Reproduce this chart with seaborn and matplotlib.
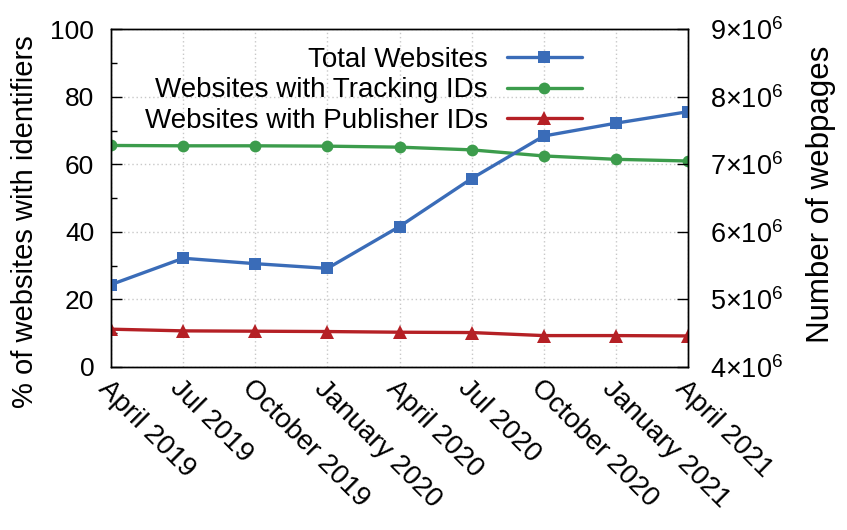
import matplotlib
matplotlib.use("Agg")
import matplotlib.pyplot as plt
import seaborn as sns
import pandas as pd
import numpy as np
from matplotlib.ticker import MultipleLocator, FixedLocator

periods = ["April 2019", "Jul 2019", "October 2019", "January 2020", "April 2020",
           "Jul 2020", "October 2020", "January 2021", "April 2021"]
total_websites = [5.22e6, 5.61e6, 5.53e6, 5.46e6, 6.08e6, 6.79e6, 7.42e6, 7.61e6, 7.78e6]
tracking_ids = [65.6, 65.5, 65.5, 65.4, 65.1, 64.3, 62.5, 61.5, 61.0]
publisher_ids = [11.2, 10.7, 10.6, 10.5, 10.3, 10.2, 9.3, 9.3, 9.2]
right_ticks = [4e6, 5e6, 6e6, 7e6, 8e6, 9e6]
right_tick_labels = [r"$4{\times}10^{6}$", r"$5{\times}10^{6}$", r"$6{\times}10^{6}$",
                     r"$7{\times}10^{6}$", r"$8{\times}10^{6}$", r"$9{\times}10^{6}$"]

BLUE = "#3a6cb8"
GREEN = "#3c9c4c"
RED = "#b52025"

sns.set_theme(style="white")
plt.rcParams["font.family"] = ["Liberation Sans", "DejaVu Sans"]
plt.rcParams["mathtext.fontset"] = "custom"
plt.rcParams["mathtext.rm"] = "Liberation Sans"
plt.rcParams["mathtext.it"] = "Liberation Sans"
plt.rcParams["mathtext.default"] = "regular"
for k in ("text.color", "axes.labelcolor", "xtick.color", "ytick.color"):
    plt.rcParams[k] = "black"
FS_XTICK = 20
FS_YTICK = 19
FS_RTICK = 19.5
FS_LABEL = 21
FS_RLABEL = 22.5
FS_LEG = 20

df = pd.DataFrame({
    "pos": np.arange(len(periods)),
    "period": periods,
    "total": total_websites,
    "tracking": tracking_ids,
    "publisher": publisher_ids,
})

fig = plt.figure(figsize=(8.47, 5.30), dpi=100)
ax = fig.add_axes([111/847, 1-367/530, (688-111)/847, (367-29.3)/530])
ax2 = ax.twinx()

lw = 2.4
sns.lineplot(data=df, x="pos", y="tracking", ax=ax, color=GREEN, marker="o",
             markersize=8.5, markeredgewidth=0, linewidth=lw, label="Websites with Tracking IDs", legend=False)
sns.lineplot(data=df, x="pos", y="publisher", ax=ax, color=RED, marker="^",
             markersize=10, markeredgewidth=0, linewidth=lw, label="Websites with Publisher IDs", legend=False)
sns.lineplot(data=df, x="pos", y="total", ax=ax2, color=BLUE, marker="s",
             markersize=9, markeredgewidth=0, linewidth=lw, label="Total Websites", legend=False)

ax.set_xlim(0, len(periods) - 1)
ax.set_ylim(0, 100)
ax2.set_ylim(4e6, 9e6)

ax.yaxis.set_major_locator(MultipleLocator(20))
ax.yaxis.set_minor_locator(MultipleLocator(10))
ax.set_xticks(df["pos"])
ax.set_xticklabels(periods, rotation=-45, ha="left", va="top", rotation_mode="anchor", fontsize=FS_XTICK)
ax.tick_params(axis="x", direction="in", length=8, width=1, color="black", pad=6)
ax.tick_params(axis="y", which="major", direction="in", length=8, width=1, color="black",
               labelsize=FS_YTICK, pad=12)
ax.tick_params(axis="y", which="minor", direction="in", length=4, width=1, color="black", left=True)
ax2.yaxis.set_major_locator(FixedLocator(right_ticks))
ax2.set_yticks(right_ticks)
ax2.set_yticklabels(right_tick_labels, fontsize=FS_RTICK)
ax2.tick_params(axis="y", direction="in", length=8, width=1, color="black", pad=16)

for a in (ax, ax2):
    for s in a.spines.values():
        s.set_color("black")
        s.set_linewidth(1.0)

ax.grid(True, which="major", color="#c8c8c8", linestyle=(0, (1, 2)), linewidth=1.0)
ax.set_axisbelow(True)

ax.set_xlabel("")
ax.set_ylabel("% of websites with identifiers", fontsize=FS_LABEL)
ax.yaxis.set_label_coords(-0.125, 0.43)
ax2.set_ylabel("Number of webpages", fontsize=FS_RLABEL)
ax2.yaxis.set_label_coords(1.205, 0.512)

h2, l2 = ax2.get_legend_handles_labels()
h1, l1 = ax.get_legend_handles_labels()
leg = ax2.legend(h2 + h1, l2 + l1, loc="upper right", bbox_to_anchor=(0.816, 0.948),
                 frameon=False, markerfirst=False, fontsize=FS_LEG, handlelength=2.7,
                 handletextpad=0.68, labelspacing=0.16, borderpad=0, borderaxespad=0)

fig.savefig("out.png", dpi=100)
